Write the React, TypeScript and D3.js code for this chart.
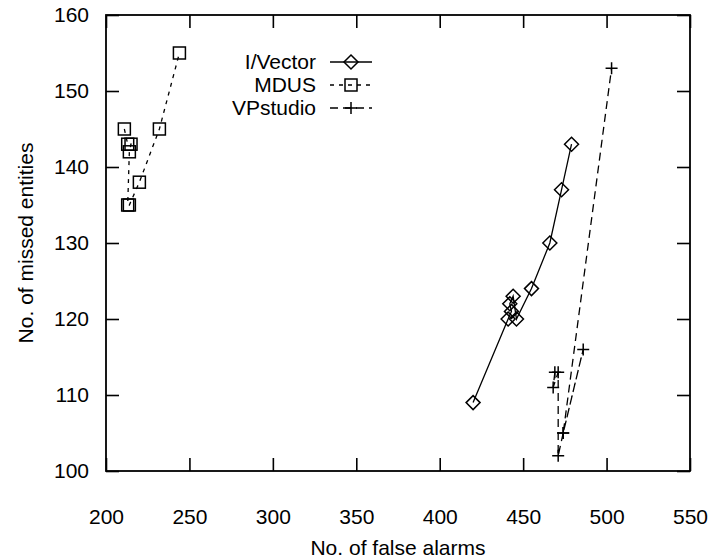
import React, { useEffect, useRef } from 'react';
import * as d3 from 'd3';

// values, in drawing order
const ivectorFalse = [420, 441, 443, 442, 444, 446, 455, 466, 473, 479];
const ivectorMissed = [109, 120, 121, 122, 123, 120, 124, 130, 137, 143];

const mdusFalse = [211, 213, 215, 214, 213, 214, 220, 232, 244];
const mdusMissed = [145, 143, 143, 142, 135, 135, 138, 145, 155];

const vpFalse = [469, 468, 471, 471, 474, 486, 474, 503];
const vpMissed = [113, 111, 113, 102, 105, 116, 105, 153];

const xTicks = [200, 250, 300, 350, 400, 450, 500, 550];
const yTicks = [100, 110, 120, 130, 140, 150, 160];

const seriesNames = ['I/Vector', 'MDUS', 'VPstudio'];

const FONT = '"Liberation Sans", Arial, Helvetica, sans-serif';

const App = () => {
    const svgRef = useRef<SVGSVGElement>(null);

    useEffect(() => {
        const width = 713;
        const height = 560;
        const margin = { top: 15, right: 23, bottom: 89, left: 106 };
        const w = width - margin.left - margin.right;
        const h = height - margin.top - margin.bottom;

        const svgEl = d3.select(svgRef.current);
        svgEl.selectAll('*').remove();

        const svg = svgEl
            .append('g')
            .attr('transform', `translate(${margin.left},${margin.top})`);

        const x = d3.scaleLinear().domain([200, 550]).range([0, w]);
        const y = d3.scaleLinear().domain([100, 160]).range([h, 0]);

        const tickLen = 13;

        // frame with mirrored inward ticks (gnuplot style)
        const axisStyle = (g: any) => {
            g.select('.domain').remove();
            g.selectAll('line').attr('stroke', '#000').attr('stroke-width', 1.6);
            g.selectAll('text').attr('fill', '#000').style('font-family', FONT).style('font-size', '21px');
        };

        svg.append('g')
            .attr('transform', `translate(0,${h})`)
            .call(d3.axisBottom(x).tickValues(xTicks).tickSize(-tickLen).tickPadding(tickLen + 25).tickFormat(d3.format('d')))
            .call(axisStyle);

        svg.append('g')
            .call(d3.axisTop(x).tickValues(xTicks).tickSize(-tickLen).tickFormat(() => ''))
            .call(axisStyle);

        svg.append('g')
            .call(d3.axisLeft(y).tickValues(yTicks).tickSize(-tickLen).tickPadding(tickLen + 4).tickFormat(d3.format('d')))
            .call(axisStyle);

        svg.append('g')
            .attr('transform', `translate(${w},0)`)
            .call(d3.axisRight(y).tickValues(yTicks).tickSize(-tickLen).tickFormat(() => ''))
            .call(axisStyle);

        svg.append('rect')
            .attr('width', w)
            .attr('height', h)
            .attr('fill', 'none')
            .attr('stroke', '#000')
            .attr('stroke-width', 1.8);

        // axis titles
        svg.append('text')
            .attr('x', w / 2)
            .attr('y', h + 84)
            .attr('text-anchor', 'middle')
            .style('font-family', FONT)
            .style('font-size', '21px')
            .text('No. of false alarms');

        svg.append('text')
            .attr('transform', `translate(${-73},${h / 2}) rotate(-90)`)
            .attr('text-anchor', 'middle')
            .style('font-family', FONT)
            .style('font-size', '21px')
            .text('No. of missed entities');

        const line = d3.line<[number, number]>()
            .x(d => x(d[0]))
            .y(d => y(d[1]));

        const drawDiamond = (g: any, cx: number, cy: number) => {
            const r = 7;
            g.append('path')
                .attr('d', `M${cx},${cy - r}L${cx + r},${cy}L${cx},${cy + r}L${cx - r},${cy}Z`)
                .attr('fill', 'none').attr('stroke', '#000').attr('stroke-width', 1.5);
        };
        const drawSquare = (g: any, cx: number, cy: number) => {
            const r = 6;
            g.append('rect')
                .attr('x', cx - r).attr('y', cy - r).attr('width', 2 * r).attr('height', 2 * r)
                .attr('fill', 'none').attr('stroke', '#000').attr('stroke-width', 1.5);
        };
        const drawPlus = (g: any, cx: number, cy: number) => {
            const r = 6;
            g.append('path')
                .attr('d', `M${cx - r},${cy}H${cx + r}M${cx},${cy - r}V${cy + r}`)
                .attr('fill', 'none').attr('stroke', '#000').attr('stroke-width', 1.5);
        };

        const series = [
            { xs: ivectorFalse, ys: ivectorMissed, dash: null, marker: drawDiamond },
            { xs: mdusFalse, ys: mdusMissed, dash: '4,5', marker: drawSquare },
            { xs: vpFalse, ys: vpMissed, dash: '8,5', marker: drawPlus },
        ];

        series.forEach(s => {
            const pts = s.xs.map((v, i) => [v, s.ys[i]] as [number, number]);
            svg.append('path')
                .datum(pts)
                .attr('d', line)
                .attr('fill', 'none')
                .attr('stroke', '#000')
                .attr('stroke-width', 1.3)
                .attr('stroke-dasharray', s.dash);
            const g = svg.append('g');
            pts.forEach(p => s.marker(g, x(p[0]), y(p[1])));
        });

        // legend
        const legend = svg.append('g').attr('transform', `translate(${316 - margin.left},${62 - margin.top})`);
        seriesNames.forEach((name, i) => {
            const row = legend.append('g').attr('transform', `translate(0,${i * 23})`);
            row.append('text')
                .attr('x', 0)
                .attr('y', 0)
                .attr('dy', '0.35em')
                .attr('text-anchor', 'end')
                .style('font-family', FONT)
                .style('font-size', '21px')
                .text(name);
            row.append('line')
                .attr('x1', 14).attr('x2', 56)
                .attr('stroke', '#000')
                .attr('stroke-width', 1.3)
                .attr('stroke-dasharray', series[i].dash);
            series[i].marker(row, 35, 0);
        });
    }, []);

    return (
        <svg
            ref={svgRef}
            width={713}
            height={560}
            style={{ position: 'absolute', left: 0, top: 0, background: '#fff' }}
        />
    );
};

export default App;
